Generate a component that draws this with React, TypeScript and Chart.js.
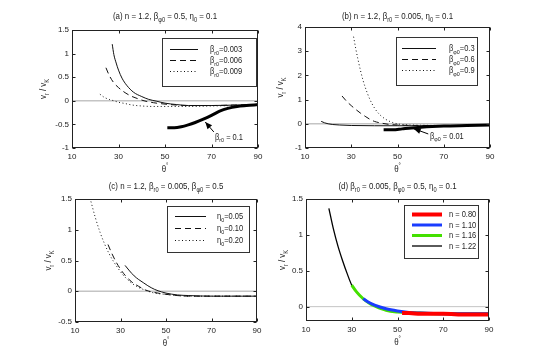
import React, { useEffect, useRef } from 'react';
import { Chart, registerables } from 'chart.js';
Chart.register(...registerables);

const FONT = '"Liberation Sans Narrow", "Liberation Sans", Arial, sans-serif';

// shared axis content
const thetaTicks = [10, 30, 50, 70, 90];
const xLabel = 'θ^{°}';
const yLabel = 'v_{r} / v_{K}';
const zeroX = [10, 90];
const zeroY = [0, 0];

// ---------- (a) ----------
const aTitle = '(a) n = 1.2, β_{φ0} = 0.5, η_{0} = 0.1';
const aTicksY = [-1, -0.5, 0, 0.5, 1, 1.5];
const aLabels = ['β_{r0}=0.003', 'β_{r0}=0.006', 'β_{r0}=0.009'];
const aX1 = [27.3, 28, 29, 30, 31.5, 33.5, 36.5, 40, 43, 46.5, 50, 55, 60, 70, 80, 90];
const aY1 = [1.2, 0.98, 0.8, 0.65, 0.48, 0.33, 0.18, 0.09, 0.03, -0.01, -0.05, -0.08, -0.1, -0.1, -0.09, -0.08];
const aX2 = [24.6, 26, 28, 30, 32, 35, 38, 41, 45, 50, 55, 60, 70, 80, 90];
const aY2 = [0.7, 0.54, 0.38, 0.28, 0.2, 0.11, 0.05, 0.0, -0.04, -0.07, -0.09, -0.1, -0.1, -0.09, -0.08];
const aX3 = [22, 24, 26, 28, 30, 33, 36, 40, 45, 50, 60, 70, 80, 90];
const aY3 = [0.14, 0.07, 0.03, 0.0, -0.03, -0.06, -0.09, -0.11, -0.12, -0.12, -0.12, -0.11, -0.1, -0.08];
const aX4 = [51, 54, 57, 60, 63, 66.5, 70, 73.5, 77, 81, 85, 90];
const aY4 = [-0.57, -0.57, -0.55, -0.51, -0.46, -0.39, -0.31, -0.22, -0.16, -0.12, -0.1, -0.08];
const aNote = 'β_{r0} = 0.1';
const aNoteAt = [71.5, -0.76];
const aArrowFrom = [71, -0.66];
const aArrowTo = [67.3, -0.45];

// ---------- (b) ----------
const bTitle = '(b) n = 1.2, β_{r0} = 0.005, η_{0} = 0.1';
const bTicksY = [-1, 0, 1, 2, 3, 4];
const bLabels = ['β_{φ0}=0.3', 'β_{φ0}=0.6', 'β_{φ0}=0.9'];
const bX1 = [17, 18.5, 20, 22, 25, 30, 40, 50, 60, 70, 80, 90];
const bY1 = [0.1, 0.04, 0.0, -0.03, -0.05, -0.07, -0.08, -0.08, -0.08, -0.07, -0.07, -0.06];
const bX2 = [26, 28, 30, 32, 34, 36, 38, 40, 43, 46, 50, 60, 70, 80, 90];
const bY2 = [1.15, 0.93, 0.75, 0.59, 0.44, 0.31, 0.19, 0.1, 0.03, -0.02, -0.05, -0.07, -0.07, -0.07, -0.06];
const bX3 = [31, 32, 33, 34, 35, 36, 38, 40, 42, 45, 48, 51, 55, 60, 70, 80, 90];
const bY3 = [3.6, 3.08, 2.62, 2.2, 1.83, 1.52, 1.02, 0.66, 0.41, 0.18, 0.05, -0.02, -0.05, -0.06, -0.07, -0.07, -0.06];
const bX4 = [44, 48, 52, 56, 60, 65, 70, 80, 90];
const bY4 = [-0.25, -0.25, -0.21, -0.17, -0.14, -0.11, -0.09, -0.07, -0.05];
const bNote = 'β_{φ0} = 0.01';
const bNoteAt = [64, -0.5];
const bArrowFrom = [63.3, -0.42];
const bArrowTo = [57, -0.2];

// ---------- (c) ----------
const cTitle = '(c) n = 1.2, β_{r0} = 0.005, β_{φ0} = 0.5';
const cTicksY = [-0.5, 0, 0.5, 1, 1.5];
const cLabels = ['η_{0}=0.05', 'η_{0}=0.10', 'η_{0}=0.20'];
const cX1 = [32, 34, 36, 38, 40, 42, 45, 48, 50, 55, 60, 70, 80, 90];
const cY1 = [0.42, 0.33, 0.25, 0.19, 0.14, 0.09, 0.03, -0.01, -0.03, -0.06, -0.07, -0.08, -0.08, -0.08];
const cX2 = [24.5, 26, 28, 30, 32, 35, 38, 41, 45, 50, 55, 60, 70, 80, 90];
const cY2 = [0.76, 0.63, 0.48, 0.36, 0.26, 0.15, 0.08, 0.02, -0.02, -0.05, -0.07, -0.08, -0.08, -0.08, -0.08];
const cX3 = [17, 19, 21, 23, 25, 27, 29, 31, 34, 37, 40, 45, 50, 55, 60, 70, 80, 90];
const cY3 = [1.46, 1.19, 0.96, 0.77, 0.61, 0.48, 0.37, 0.27, 0.16, 0.08, 0.03, -0.03, -0.05, -0.07, -0.08, -0.08, -0.08, -0.08];

// ---------- (d) ----------
const dTitle = '(d) β_{r0} = 0.005, β_{φ0} = 0.5, η_{0} = 0.1';
const dTicksY = [0, 0.5, 1, 1.5];
const dLabels = ['n = 0.80', 'n = 1.10', 'n = 1.16', 'n = 1.22'];
const dX080 = [52, 55, 60, 70, 80, 90];
const dY080 = [-0.09, -0.09, -0.1, -0.1, -0.11, -0.11];
const dX110 = [35, 38, 40, 45, 50, 55, 60, 70, 80, 90];
const dY110 = [0.11, 0.05, 0.02, -0.03, -0.06, -0.08, -0.09, -0.1, -0.1, -0.1];
const dX116 = [30, 32, 35, 38, 40, 45, 50, 55, 60, 70, 80, 90];
const dY116 = [0.3, 0.21, 0.11, 0.04, 0.01, -0.05, -0.075, -0.085, -0.09, -0.1, -0.1, -0.1];
const dX122 = [20, 22, 24, 26, 28, 30, 32, 35, 40, 45, 50, 55, 60, 70, 80, 90];
const dY122 = [1.37, 1.08, 0.84, 0.64, 0.46, 0.3, 0.21, 0.11, 0.01, -0.04, -0.07, -0.08, -0.09, -0.1, -0.1, -0.1];

type Seg = [string, number];
function parse(s: string): Seg[] {
  const out: Seg[] = [];
  let buf = '';
  let i = 0;
  while (i < s.length) {
    const c = s[i];
    if ((c === '_' || c === '^') && s[i + 1] === '{') {
      if (buf) out.push([buf, 0]);
      buf = '';
      const j = s.indexOf('}', i);
      out.push([s.slice(i + 2, j), c === '_' ? 1 : 2]);
      i = j + 1;
    } else {
      buf += c;
      i++;
    }
  }
  if (buf) out.push([buf, 0]);
  return out;
}

const SQUEEZE = 0.88;

function drawRich(ctx: CanvasRenderingContext2D, text: string, x: number, y: number, size: number, align: string, color = '#222') {
  const segs = parse(text);
  const sizes = segs.map(([, k]) => (k ? size * 0.72 : size));
  const widths = segs.map(([s], i) => {
    ctx.font = `${sizes[i]}px ${FONT}`;
    return ctx.measureText(s).width;
  });
  const w = widths.reduce((a, b) => a + b, 0) * SQUEEZE;
  const start = align === 'left' ? x : align === 'center' ? x - w / 2 : x - w;
  const base = y + size * 0.35;
  ctx.save();
  ctx.translate(start, base);
  ctx.scale(SQUEEZE, 1);
  ctx.fillStyle = color;
  ctx.textAlign = 'left';
  ctx.textBaseline = 'alphabetic';
  let cx = 0;
  segs.forEach(([s, k], i) => {
    ctx.font = `${sizes[i]}px ${FONT}`;
    const dy = k === 1 ? size * 0.3 : k === 2 ? -size * 0.42 : 0;
    ctx.fillText(s, cx, dy);
    cx += widths[i];
  });
  ctx.restore();
}

type Series = { label?: string; x: number[]; y: number[]; color: string; width: number; dash: number[]; order: number };
type Note = { text: string; at: number[]; from: number[]; to: number[] };
type Panel = {
  key: string; title: string; ticksY: number[]; yMin: number; yMax: number;
  L: number; R: number; T: number; B: number; titleY: number; yLabelX: number;
  legend: { x0: number; y0: number; x1: number; y1: number; rows: number[]; s0: number; s1: number; tx: number };
  series: Series[]; note?: Note; zeroWidth: number;
};

const BLACK = '#111';

const panels: Panel[] = [
  {
    key: 'a', title: aTitle, ticksY: aTicksY, yMin: -1, yMax: 1.5,
    L: 72, R: 258, T: 30, B: 148, titleY: 16, yLabelX: 43,
    legend: { x0: 162, y0: 38, x1: 257, y1: 87, rows: [49.5, 60.5, 71.5], s0: 170, s1: 198, tx: 210 },
    series: [
      { label: aLabels[0], x: aX1, y: aY1, color: BLACK, width: 1, dash: [], order: 3 },
      { label: aLabels[1], x: aX2, y: aY2, color: BLACK, width: 1, dash: [6, 4], order: 2 },
      { label: aLabels[2], x: aX3, y: aY3, color: BLACK, width: 1, dash: [1, 2.5], order: 4 },
      { x: aX4, y: aY4, color: '#000', width: 3, dash: [], order: 1 },
    ],
    note: { text: aNote, at: aNoteAt, from: aArrowFrom, to: aArrowTo }, zeroWidth: 1.5,
  },
  {
    key: 'b', title: bTitle, ticksY: bTicksY, yMin: -1, yMax: 4,
    L: 305, R: 490, T: 27, B: 148, titleY: 16, yLabelX: 280,
    legend: { x0: 396, y0: 37, x1: 478, y1: 86, rows: [48.5, 59.5, 70.5], s0: 402, s1: 436, tx: 449 },
    series: [
      { label: bLabels[0], x: bX1, y: bY1, color: BLACK, width: 1, dash: [], order: 3 },
      { label: bLabels[1], x: bX2, y: bY2, color: BLACK, width: 1, dash: [6, 4], order: 2 },
      { label: bLabels[2], x: bX3, y: bY3, color: BLACK, width: 1, dash: [1, 2.5], order: 4 },
      { x: bX4, y: bY4, color: '#000', width: 3, dash: [], order: 1 },
    ],
    note: { text: bNote, at: bNoteAt, from: bArrowFrom, to: bArrowTo }, zeroWidth: 1.5,
  },
  {
    key: 'c', title: cTitle, ticksY: cTicksY, yMin: -0.5, yMax: 1.5,
    L: 75, R: 257, T: 199, B: 322, titleY: 186, yLabelX: 48,
    legend: { x0: 167, y0: 206, x1: 250, y1: 253, rows: [216.5, 228.5, 240.5], s0: 175, s1: 206, tx: 217 },
    series: [
      { label: cLabels[0], x: cX1, y: cY1, color: BLACK, width: 1, dash: [], order: 1 },
      { label: cLabels[1], x: cX2, y: cY2, color: BLACK, width: 1, dash: [6, 4], order: 2 },
      { label: cLabels[2], x: cX3, y: cY3, color: BLACK, width: 1, dash: [1, 2.5], order: 3 },
    ],
    zeroWidth: 1.5,
  },
  {
    key: 'd', title: dTitle, ticksY: dTicksY, yMin: -0.2, yMax: 1.5,
    L: 306, R: 489, T: 199, B: 321, titleY: 186, yLabelX: 282,
    legend: { x0: 404, y0: 205, x1: 479, y1: 259, rows: [214.5, 225, 235.5, 246], s0: 412, s1: 442, tx: 449 },
    series: [
      { label: dLabels[0], x: dX080, y: dY080, color: '#ff0000', width: 4, dash: [], order: 0 },
      { label: dLabels[1], x: dX110, y: dY110, color: '#1a3cff', width: 3, dash: [], order: 1 },
      { label: dLabels[2], x: dX116, y: dY116, color: '#44e000', width: 3, dash: [], order: 2 },
      { label: dLabels[3], x: dX122, y: dY122, color: '#000', width: 1.3, dash: [], order: 3 },
    ],
    zeroWidth: 1,
  },
];

function overlay(p: Panel) {
  return {
    id: 'overlay_' + p.key,
    afterDraw(chart: any) {
      const ctx: CanvasRenderingContext2D = chart.ctx;
      const { left, right, top, bottom } = chart.chartArea;
      const xs = chart.scales.x;
      const ys = chart.scales.y;
      ctx.save();
      // box + inward ticks
      const l = Math.round(left) + 0.5, r = Math.round(right) - 0.5, t = Math.round(top) + 0.5, b = Math.round(bottom) - 0.5;
      ctx.strokeStyle = '#222';
      ctx.lineWidth = 1;
      ctx.setLineDash([]);
      ctx.strokeRect(l, t, r - l, b - t);
      ctx.beginPath();
      for (const tk of xs.ticks) {
        const px = Math.round(xs.getPixelForValue(tk.value)) + 0.5;
        ctx.moveTo(px, b); ctx.lineTo(px, b - 3);
        ctx.moveTo(px, t); ctx.lineTo(px, t + 3);
      }
      for (const tk of ys.ticks) {
        const py = Math.round(ys.getPixelForValue(tk.value)) + 0.5;
        ctx.moveTo(l, py); ctx.lineTo(l + 3, py);
        ctx.moveTo(r, py); ctx.lineTo(r - 3, py);
      }
      ctx.stroke();

      // annotation
      if (p.note) {
        const n = p.note;
        const fx = xs.getPixelForValue(n.from[0]), fy = ys.getPixelForValue(n.from[1]);
        const tx = xs.getPixelForValue(n.to[0]), ty = ys.getPixelForValue(n.to[1]);
        ctx.strokeStyle = '#000';
        ctx.fillStyle = '#000';
        ctx.lineWidth = 1;
        ctx.beginPath(); ctx.moveTo(fx, fy); ctx.lineTo(tx, ty); ctx.stroke();
        const ang = Math.atan2(ty - fy, tx - fx);
        const len = 7, wid = 3;
        ctx.beginPath();
        ctx.moveTo(tx, ty);
        ctx.lineTo(tx - len * Math.cos(ang) + wid * Math.sin(ang), ty - len * Math.sin(ang) - wid * Math.cos(ang));
        ctx.lineTo(tx - len * Math.cos(ang) - wid * Math.sin(ang), ty - len * Math.sin(ang) + wid * Math.cos(ang));
        ctx.closePath(); ctx.fill();
        drawRich(ctx, n.text, xs.getPixelForValue(n.at[0]), ys.getPixelForValue(n.at[1]), 8.5, 'left');
      }

      // legend
      const lg = p.legend;
      ctx.fillStyle = '#fff';
      ctx.fillRect(lg.x0, lg.y0, lg.x1 - lg.x0, lg.y1 - lg.y0);
      ctx.strokeStyle = '#333';
      ctx.lineWidth = 1;
      ctx.strokeRect(lg.x0 + 0.5, lg.y0 + 0.5, lg.x1 - lg.x0 - 1, lg.y1 - lg.y0 - 1);
      const items = p.series.filter((s) => s.label);
      items.forEach((s, i) => {
        const y = lg.rows[i];
        ctx.strokeStyle = s.color;
        ctx.lineWidth = s.width;
        ctx.setLineDash(s.dash);
        ctx.beginPath(); ctx.moveTo(lg.s0, y); ctx.lineTo(lg.s1, y); ctx.stroke();
        ctx.setLineDash([]);
        drawRich(ctx, s.label as string, lg.tx, y, 8.5, 'left');
      });

      // title and axis labels
      const cx = (left + right) / 2;
      drawRich(ctx, p.title, cx, p.titleY, 9, 'center');
      drawRich(ctx, xLabel, cx, bottom + 21, 9, 'center');
      ctx.save();
      ctx.translate(p.yLabelX, (top + bottom) / 2);
      ctx.rotate(-Math.PI / 2);
      drawRich(ctx, yLabel, 0, 0, 9, 'center');
      ctx.restore();
      ctx.restore();
    },
  };
}

function PanelChart({ p }: { p: Panel }) {
  const ref = useRef<HTMLCanvasElement>(null);
  useEffect(() => {
    const toPts = (xs: number[], ys: number[]) => xs.map((x, i) => ({ x, y: ys[i] }));
    const datasets: any[] = p.series.map((s) => ({
      label: s.label || '',
      data: toPts(s.x, s.y),
      borderColor: s.color,
      borderWidth: s.width,
      borderDash: s.dash,
      pointRadius: 0,
      cubicInterpolationMode: 'monotone',
      order: s.order,
      borderCapStyle: 'butt',
    }));
    datasets.push({
      label: 'zero',
      data: toPts(zeroX, zeroY),
      borderColor: '#c4c4c4',
      borderWidth: p.zeroWidth,
      pointRadius: 0,
      order: 20,
    });
    const tickFont = { family: FONT, size: 8 };
    const chart = new Chart(ref.current as HTMLCanvasElement, {
      type: 'line',
      data: { datasets },
      options: {
        responsive: false,
        animation: false,
        devicePixelRatio: 1,
        layout: { padding: { left: p.L - 30, top: p.T, right: 554 - p.R, bottom: 360 - p.B - 20 } },
        plugins: { legend: { display: false }, tooltip: { enabled: false }, title: { display: false } },
        scales: {
          x: {
            type: 'linear', min: 10, max: 90,
            afterFit: (s: any) => { s.height = 20; },
            afterBuildTicks: (s: any) => { s.ticks = thetaTicks.map((v) => ({ value: v })); },
            grid: { display: false, drawTicks: false },
            border: { display: false },
            ticks: { padding: 4, font: tickFont, color: '#222', autoSkip: false, maxRotation: 0, callback: (v: any) => String(v) },
          },
          y: {
            type: 'linear', min: p.yMin, max: p.yMax,
            afterFit: (s: any) => { s.width = 30; },
            afterBuildTicks: (s: any) => { s.ticks = p.ticksY.map((v) => ({ value: v })); },
            grid: { display: false, drawTicks: false },
            border: { display: false },
            ticks: { padding: 3, font: tickFont, color: '#222', autoSkip: false, callback: (v: any) => String(v) },
          },
        },
      } as any,
      plugins: [overlay(p)],
    });
    return () => chart.destroy();
  }, [p]);
  return (
    <canvas
      ref={ref}
      width={554}
      height={360}
      style={{ position: 'absolute', left: 0, top: 0, width: 554, height: 360 }}
    />
  );
}

export default function App() {
  return (
    <div style={{ position: 'fixed', left: 0, top: 0, width: 554, height: 360, background: '#fff' }}>
      {panels.map((p) => (
        <PanelChart key={p.key} p={p} />
      ))}
    </div>
  );
}
